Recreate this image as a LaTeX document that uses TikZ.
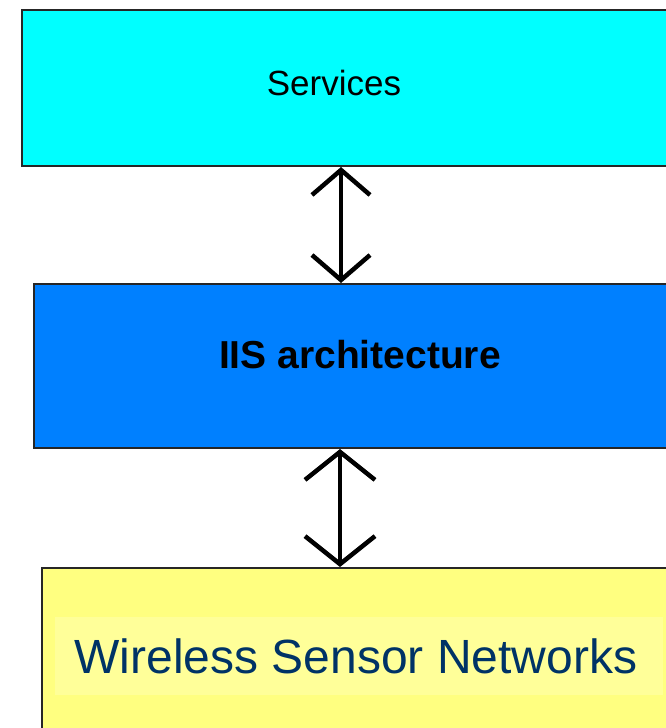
\documentclass[tikz,border=0pt]{standalone}
\usepackage{fontspec}
\setmainfont{Liberation Sans}
\usetikzlibrary{arrows.meta}
\definecolor{svccyan}{HTML}{00FFFF}
\definecolor{iisblue}{HTML}{0080FF}
\definecolor{wsnyellow}{HTML}{FFFF80}
\definecolor{wsnlight}{HTML}{FFFF99}
\definecolor{wsntext}{HTML}{003366}
\tikzset{
  layer/.style={draw=black!85, line width=2pt, anchor=north west, inner sep=0pt},
  link/.style 2 args={line width=4.5pt,
    {Straight Barb[length=#1,width=#2]}-{Straight Barb[length=#1,width=#2]}},
}
\begin{document}
\begin{tikzpicture}[x=1pt,y=-1pt]
  \useasboundingbox (0,0) rectangle (666,728);
  \clip (0,0) rectangle (666,728);
  \fill[white] (0,0) rectangle (666,728);
  % the three layers, each running off the right edge
  \node[layer, fill=svccyan, minimum width=660pt, minimum height=156pt] (svc) at (21,9) {};
  \node[layer, fill=iisblue, minimum width=650pt, minimum height=164pt] (iis) at (33,283) {};
  \node[layer, fill=wsnyellow, minimum width=645pt, minimum height=180pt] (wsn) at (41,567) {};
  % labels
  \node[inner sep=0pt, font=\fontsize{35}{40}\selectfont] (svclabel) at (334,83) {Services};
  \node[inner sep=0pt, font=\bfseries\fontsize{39}{44}\selectfont] (iislabel) at (360,355) {IIS architecture};
  \node[fill=wsnlight, inner sep=0pt, minimum width=608pt, minimum height=78pt] (wsnband) at (359,656) {};
  \node[inner sep=0pt, text=wsntext, font=\fontsize{48}{54}\selectfont] (wsnlabel) at (356,656) {Wireless Sensor Networks};
  % two-way links between the layers
  \coordinate (colA) at (341,0);
  \coordinate (colB) at (340,0);
  \draw[link={25pt}{58pt}] (svc.south -| colA) -- (iis.north -| colA);
  \draw[link={28pt}{70pt}] (iis.south -| colB) -- (wsn.north -| colB);
\end{tikzpicture}
\end{document}
